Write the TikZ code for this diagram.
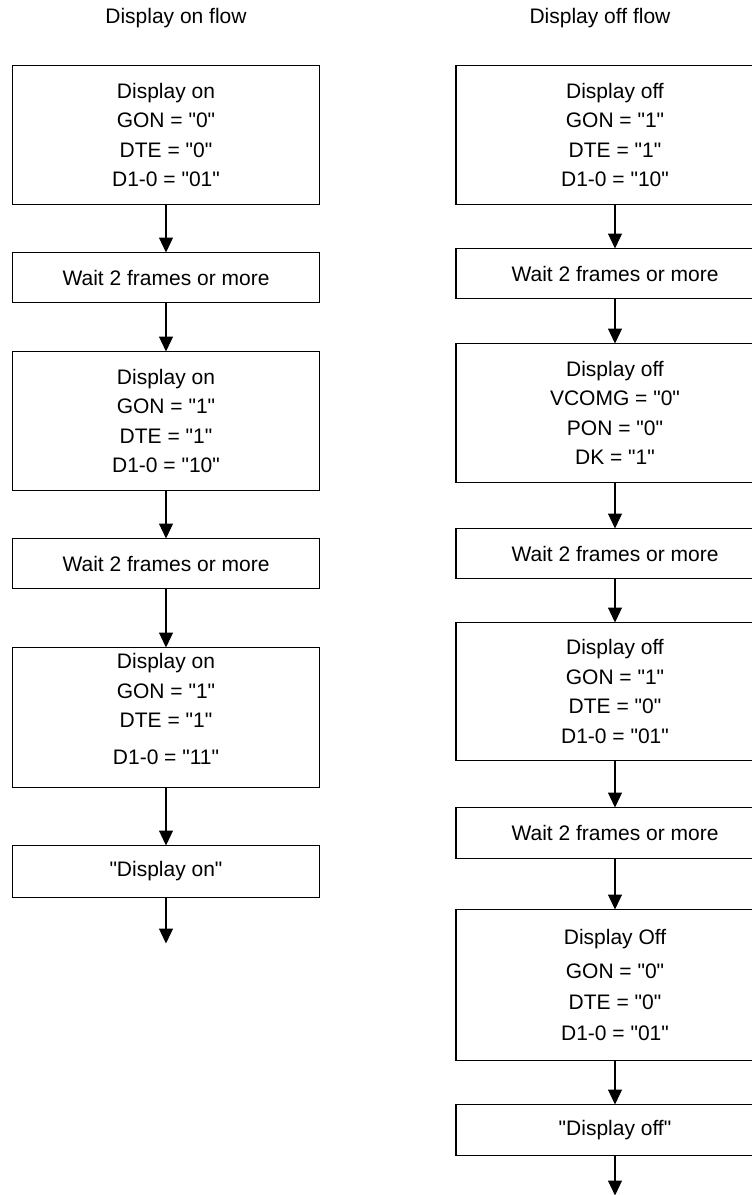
\documentclass[tikz,border=0pt]{standalone}
\usepackage{fontspec}
\setmainfont{Liberation Sans}[Ligatures=TeXOff]
\usetikzlibrary{arrows.meta, positioning}

\begin{document}
\begin{tikzpicture}[
    x=1pt, y=-1pt,
    font=\fontsize{21}{29.5}\selectfont,
    flowbox/.style={draw, line width=1.3pt, inner sep=0pt, outer sep=0pt, align=center},
    tallbox/.style={flowbox, minimum height=139pt},
    waitbox/.style={flowbox, minimum height=50pt},
    oncol/.style={minimum width=307pt},
    offcol/.style={minimum width=318pt},
    arrow/.style={-{Triangle[length=15pt, width=14pt]}, line width=1.2pt},
]
\useasboundingbox (0,0) rectangle (752,1195);
\clip (0,0) rectangle (752,1195);

\node (ontitle)  at (176,18) {Display on flow};
\node (offtitle) at (600,18) {Display off flow};

% display on
\node[tallbox, oncol] (on1) at (166,135)
    {Display on\\GON = "0"\\DTE = "0"\\D1-0 = "01"};
\node[waitbox, oncol, below=48pt of on1]  (onwait1) {Wait 2 frames or more};
\node[tallbox, oncol, below=49pt of onwait1] (on2)
    {Display on\\GON = "1"\\DTE = "1"\\D1-0 = "10"};
\node[waitbox, oncol, below=48pt of on2]  (onwait2) {Wait 2 frames or more};
\node[tallbox, oncol, minimum height=140pt, below=59pt of onwait2] (on3)
    {Display on\\GON = "1"\\DTE = "1"\\[7pt]D1-0 = "11"\\[-12pt]\mbox{}};
\node[waitbox, oncol, minimum height=52pt, below=58pt of on3] (ondone) {"Display on"};
\coordinate[below=46pt of ondone] (onend);

\draw[arrow] (on1)     -- (onwait1);
\draw[arrow] (onwait1) -- (on2);
\draw[arrow] (on2)     -- (onwait2);
\draw[arrow] (onwait2) -- (on3);
\draw[arrow] (on3)     -- (ondone);
\draw[arrow] (ondone)  -- (onend);

% display off
\node[tallbox, offcol] (off1) at (615,135)
    {Display off\\GON = "1"\\DTE = "1"\\D1-0 = "10"};
\node[waitbox, offcol, below=44pt of off1] (offwait1) {Wait 2 frames or more};
\node[tallbox, offcol, below=45pt of offwait1] (off2)
    {Display off\\VCOMG = "0"\\PON = "0"\\DK = "1"};
\node[waitbox, offcol, below=46pt of off2] (offwait2) {Wait 2 frames or more};
\node[tallbox, offcol, minimum height=138pt, below=44pt of offwait2] (off3)
    {Display off\\GON = "1"\\DTE = "0"\\D1-0 = "01"};
\node[waitbox, offcol, minimum height=51pt, below=47pt of off3] (offwait3) {Wait 2 frames or more};
\node[tallbox, offcol, minimum height=151pt, below=51pt of offwait3] (off4)
    {Display Off\\[4pt]GON = "0"\\[2pt]DTE = "0"\\[1pt]D1-0 = "01"};
\node[waitbox, offcol, minimum height=51pt, below=44pt of off4] (offdone) {"Display off"};
\coordinate[below=40pt of offdone] (offend);

\draw[arrow] (off1)     -- (offwait1);
\draw[arrow] (offwait1) -- (off2);
\draw[arrow] (off2)     -- (offwait2);
\draw[arrow] (offwait2) -- (off3);
\draw[arrow] (off3)     -- (offwait3);
\draw[arrow] (offwait3) -- (off4);
\draw[arrow] (off4)     -- (offdone);
\draw[arrow] (offdone)  -- (offend);
\end{tikzpicture}
\end{document}
